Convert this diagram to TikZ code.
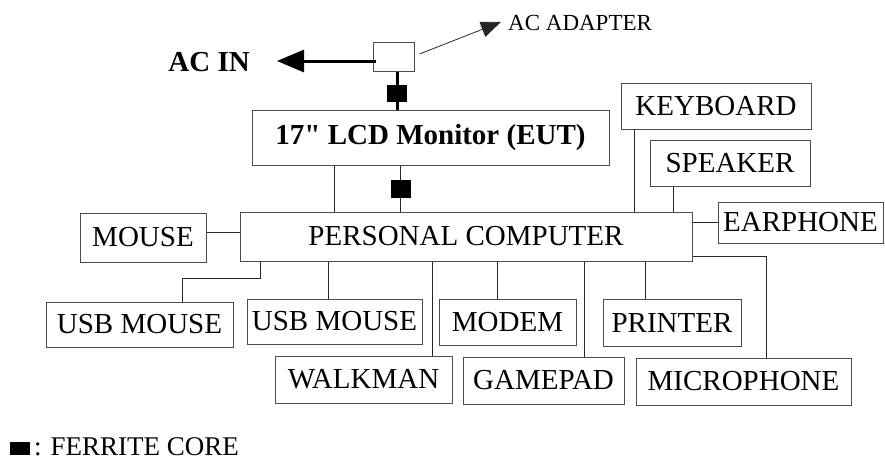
\documentclass[tikz,border=0pt]{standalone}
\usepackage{fontspec}
\setmainfont{Liberation Serif}[Ligatures=TeXOff]
\usetikzlibrary{arrows.meta, positioning, calc}

\begin{document}
\begin{tikzpicture}[
            x=1pt, y=-1pt,
            % boxes for the test units
            unit/.style={
                rectangle,
                draw=black!70,
                line width=1pt,
                inner sep=0pt,
                font=\fontsize{29}{32}\selectfont
            },
            eut/.style={
                unit,
                font=\fontsize{29}{32}\selectfont\bfseries
            },
            core/.style={
                rectangle,
                fill=black,
                inner sep=0pt,
                minimum width=20pt,
                minimum height=17pt
            },
            wire/.style={
                draw,
                line width=1pt,
                color=black!85
            },
            power/.style={
                draw,
                line width=3pt
            }
        ]
        \useasboundingbox (0,0) rectangle (885,469);

        % --- Power side ---
        \node [unit, minimum width=41pt, minimum height=29pt] (adapter) at (393.5,56.5) {};
        \node [font=\fontsize{29}{32}\selectfont\bfseries, inner sep=0pt, anchor=east] (acin) at (250,62) {AC IN};
        \coordinate (plug) at (277,61);
        \node [font=\fontsize{23}{25}\selectfont, inner sep=0pt, anchor=west] (adlabel) at (508,23) {AC ADAPTER};
        \coordinate (adtip) at (501,22);

        % --- Nodes ---
        \node [eut, minimum width=357pt, minimum height=55pt] (lcd) at (430.5,137.5) {17" LCD Monitor (EUT)};
        \node [unit, minimum width=452pt, minimum height=49pt] (pc) at (466,236.5) {PERSONAL COMPUTER};
        \node [unit, minimum width=190pt, minimum height=46pt] (keyboard) at (716,106) {KEYBOARD};
        \node [unit, minimum width=160pt, minimum height=46pt] (speaker) at (730,163) {SPEAKER};
        \node [unit, minimum width=165pt, minimum height=41pt] (earphone) at (800.5,222.5) {EARPHONE};
        \node [unit, minimum width=126pt, minimum height=49pt] (mouse) at (143,237.5) {MOUSE};
        \node [unit, minimum width=187pt, minimum height=45pt] (usb1) at (139.5,324.5) {USB MOUSE};
        \node [unit, minimum width=175pt, minimum height=45pt] (usb2) at (334.5,321.5) {USB MOUSE};
        \node [unit, minimum width=137pt, minimum height=46pt] (modem) at (507.5,322) {MODEM};
        \node [unit, minimum width=138pt, minimum height=47pt] (printer) at (672,322.5) {PRINTER};
        \node [unit, minimum width=177pt, minimum height=47pt] (walkman) at (363.5,379.5) {WALKMAN};
        \node [unit, minimum width=161pt, minimum height=47pt] (gamepad) at (543.5,380.5) {GAMEPAD};
        \node [unit, minimum width=215pt, minimum height=47pt] (micro) at (743.5,381.5) {MICROPHONE};

        % --- Power cords ---
        \path [power, -{Triangle[length=27pt,width=22pt]}] ([xshift=3pt]adapter.west |- plug) -- (plug);
        \path [wire, line width=0.8pt, -{Triangle[length=20pt,width=16pt]}] ([shift={(5,-2.5)}]adapter.east) -- (adtip);
        \path [power] ([xshift=3.5pt]adapter.south) -- ([xshift=3.5pt]adapter.south |- lcd.north);
        \node [core] (core1) at (397,93.5) {};

        % --- Monitor to PC ---
        \path [wire] ([xshift=-96.5pt]lcd.south) -- ([xshift=-96.5pt]lcd.south |- pc.north);
        \path [wire] ([xshift=-30.5pt]lcd.south) -- ([xshift=-30.5pt]lcd.south |- pc.north);
        \node [core, minimum height=18pt] (core2) at (401,189) {};

        % --- Peripherals ---
        \path [wire] ([xshift=-82pt]keyboard.south) -- ([xshift=-82pt]keyboard.south |- pc.north);
        \path [wire] ([xshift=-57pt]speaker.south) -- ([xshift=-57pt]speaker.south |- pc.north);
        \path [wire] (earphone.west) -- (earphone.west -| pc.east);
        \path [wire] ([yshift=5.5pt]mouse.east) -- ([yshift=5.5pt]mouse.east -| pc.west);
        \path [wire] ([xshift=-206pt]pc.south) -- ++(0,17) -| ([xshift=42.5pt]usb1.north);
        \path [wire] ([xshift=-6.5pt]usb2.north) -- ([xshift=-6.5pt]usb2.north |- pc.south);
        \path [wire] ([xshift=68.5pt]walkman.north) -- ([xshift=68.5pt]walkman.north |- pc.south);
        \path [wire] ([xshift=-10.5pt]modem.north) -- ([xshift=-10.5pt]modem.north |- pc.south);
        \path [wire] ([xshift=40.5pt]gamepad.north) -- ([xshift=40.5pt]gamepad.north |- pc.south);
        \path [wire] ([xshift=-27pt]printer.north) -- ([xshift=-27pt]printer.north |- pc.south);
        \path [wire] ([yshift=-19.5pt]pc.east) -| ([xshift=22.5pt]micro.north);

        % --- Legend ---
        \node [core, minimum height=13pt] (key) at (20,448.5) {};
        \node [font=\fontsize{27}{29}\selectfont, inner sep=0pt, anchor=base west] (keytext) at (34,455) {: FERRITE CORE};

        \end{tikzpicture}
\end{document}
